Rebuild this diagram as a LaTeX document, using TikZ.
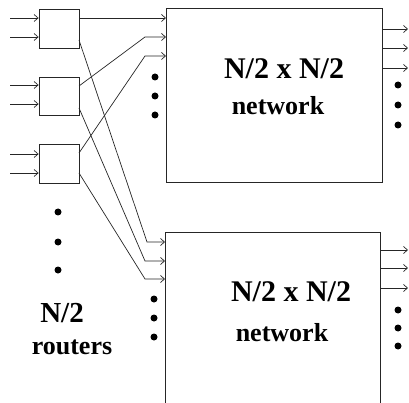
\documentclass[tikz,border=0pt]{standalone}
\usepackage{fontspec}
\setmainfont{Liberation Serif}
\usetikzlibrary{arrows.meta}
\begin{document}
\begin{tikzpicture}[x=1pt,y=-1pt,
  wire/.style={line width=0.7pt, draw=black!85},
  arr/.style={wire,-{Straight Barb[length=4pt,width=7pt]}},
  box/.style={draw=black!85, line width=0.8pt},
  dot/.style={circle, fill=black, inner sep=0pt, minimum size=7pt},
  lbl/.style={font=\bfseries\fontsize{28}{30}\selectfont, inner sep=0pt, anchor=base},
  every node/.style={}]
\useasboundingbox (0,0) rectangle (409,403);
% routers
\node[box, minimum width=40pt, minimum height=39pt, inner sep=0pt] (r1) at (59,28.5) {};
\node[box, minimum width=40pt, minimum height=38pt, inner sep=0pt] (r2) at (59,96) {};
\node[box, minimum width=40pt, minimum height=39pt, inner sep=0pt] (r3) at (59,163.5) {};
% router input coordinates
\coordinate (i1a) at (10,18);  \coordinate (i1b) at (10,37);
\coordinate (i2a) at (10,85);  \coordinate (i2b) at (10,104);
\coordinate (i3a) at (10,154); \coordinate (i3b) at (10,173);
\draw[arr] (i1a) -- (i1a -| r1.west);
\draw[arr] (i1b) -- (i1b -| r1.west);
\draw[arr] (i2a) -- (i2a -| r2.west);
\draw[arr] (i2b) -- (i2b -| r2.west);
\draw[arr] (i3a) -- (i3a -| r3.west);
\draw[arr] (i3b) -- (i3b -| r3.west);
% networks
\node[box, minimum width=216pt, minimum height=174pt, inner sep=0pt] (n1) at (274,95.5) {};
\draw[box] (165,410) coordinate (n2bl) -- (165,232) coordinate (n2tl) -- (380,232) coordinate (n2tr) -- (380,410) coordinate (n2br);
% router outputs
\coordinate (o1a) at (79,18);  \coordinate (o1b) at (79,40);
\coordinate (o2a) at (79,86);  \coordinate (o2b) at (79,108);
\coordinate (o3a) at (79,153); \coordinate (o3b) at (79,173);
% top network inputs
\coordinate (t1) at (166,18); \coordinate (t2) at (166,37); \coordinate (t3) at (166,56);
\coordinate (b1) at (165,242); \coordinate (b2) at (165,261); \coordinate (b3) at (165,279);
\draw[arr] (o1a) -- (t1);
\draw[arr] (o2a) -- (145,37) -- (t2);
\draw[arr] (o3a) -- (145,56) -- (t3);
\draw[arr] (o1b) -- (147,242) -- (b1);
\draw[arr] (o2b) -- (145,261) -- (b2);
\draw[arr] (o3b) -- (145,279) -- (b3);
% outputs
\coordinate (p1) at (408,29); \coordinate (p2) at (408,48); \coordinate (p3) at (408,68);
\coordinate (q1) at (408,250); \coordinate (q2) at (408,268); \coordinate (q3) at (408,288);
\draw[arr] (p1 -| n1.east) -- (p1);
\draw[arr] (p2 -| n1.east) -- (p2);
\draw[arr] (p3 -| n1.east) -- (p3);
\draw[arr] (n2tr |- q1) -- (q1);
\draw[arr] (n2tr |- q2) -- (q2);
\draw[arr] (n2tr |- q3) -- (q3);
% dots
\foreach \y [count=\k] in {212,242,270} \node[dot] (ld\k) at (58,\y) {};
\foreach \y [count=\k] in {77,96,115} \node[dot] (tl\k) at (155,\y) {};
\foreach \y [count=\k] in {85,105,125} \node[dot] (tr\k) at (398,\y) {};
\foreach \y [count=\k] in {299,318,337} \node[dot] (bl\k) at (154,\y) {};
\foreach \y [count=\k] in {310,328,346} \node[dot] (br\k) at (398,\y) {};
% labels
\node[lbl, font=\bfseries\fontsize{30}{32}\selectfont] (t1l) at (284,79) {N/2 x N/2};
\node[lbl, font=\bfseries\fontsize{26}{28}\selectfont] (t2l) at (278,115) {network};
\node[lbl, font=\bfseries\fontsize{30}{32}\selectfont] (b1l) at (291,301) {N/2 x N/2};
\node[lbl, font=\bfseries\fontsize{26}{28}\selectfont] (b2l) at (282,341) {network};
\node[lbl, font=\bfseries\fontsize{29}{30}\selectfont] (rl1) at (62,322) {N/2};
\node[lbl, font=\bfseries\fontsize{26}{28}\selectfont] (rl2) at (72,354) {routers};
\end{tikzpicture}
\end{document}
